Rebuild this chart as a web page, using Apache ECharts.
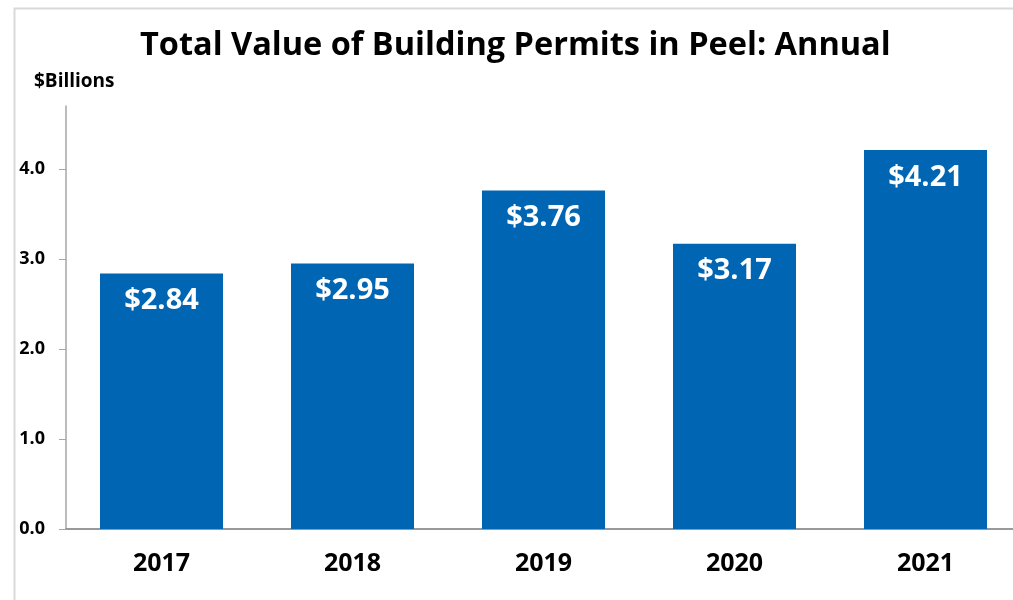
<!DOCTYPE html>
<html>
<head>
<meta charset="utf-8">
<script src="https://cdn.jsdelivr.net/npm/echarts@6/dist/echarts.min.js"></script>
<style>
  html, body { margin: 0; padding: 0; background: #fff; }
</style>
</head>
<body>
<div id="permits" style="width:1013px;height:600px;"></div>
<script>
var years = ['2017', '2018', '2019', '2020', '2021'];
var permitValues = [2.84, 2.95, 3.76, 3.17, 4.21];
var yTicks = [0, 1, 2, 3, 4];

var font = '"Open Sans", "Noto Sans", sans-serif';

var chart = echarts.init(document.getElementById('permits'));

var option = {
    animation: false,
    textStyle: { fontFamily: font },
    title: {
        text: 'Total Value of Building Permits in Peel: Annual',
        left: 135,
        top: 24,
        textStyle: { fontSize: 32.5, fontWeight: 'bold', color: '#000', fontFamily: font }
    },
    graphic: [
        {
            type: 'rect',
            left: 12, top: 6,
            shape: { width: 1100, height: 700 },
            style: { fill: 'none', stroke: '#d9d9d9', lineWidth: 2 },
            silent: true
        },
        {
            type: 'text',
            left: 34, top: 72,
            style: { text: '$Billions', font: 'bold 19px ' + font, fill: '#000' }
        }
    ],
    grid: { left: 66, width: 955, top: 106, bottom: 71, outerBoundsMode: 'none' },
    xAxis: {
        type: 'category',
        data: years,
        axisLine: { lineStyle: { color: '#999', width: 2 } },
        axisTick: { show: false },
        axisLabel: { color: '#000', fontWeight: 'bold', fontSize: 25, margin: 22 }
    },
    yAxis: {
        type: 'value',
        min: 0,
        max: 4.7,
        interval: 1,
        splitLine: { show: false },
        axisLine: { show: true, lineStyle: { color: '#a6a6a6', width: 1.5 } },
        axisTick: { show: true, length: 7, customValues: yTicks, lineStyle: { color: '#a6a6a6' } },
        axisLabel: {
            customValues: yTicks,
            color: '#000', fontWeight: 'bold', fontSize: 18, margin: 21,
            formatter: function (v) { return v.toFixed(1); }
        }
    },
    series: [
        {
            type: 'bar',
            data: permitValues,
            barWidth: 123,
            itemStyle: { color: '#0066b3' },
            label: {
                show: true,
                position: 'insideTop',
                distance: 13,
                color: '#fff',
                fontWeight: 'bold',
                fontSize: 29,
                formatter: function (p) { return '$' + p.value.toFixed(2); }
            }
        }
    ]
};

chart.setOption(option);
window.addEventListener('resize', function () {
    chart.resize();
});
</script>
</body>
</html>
